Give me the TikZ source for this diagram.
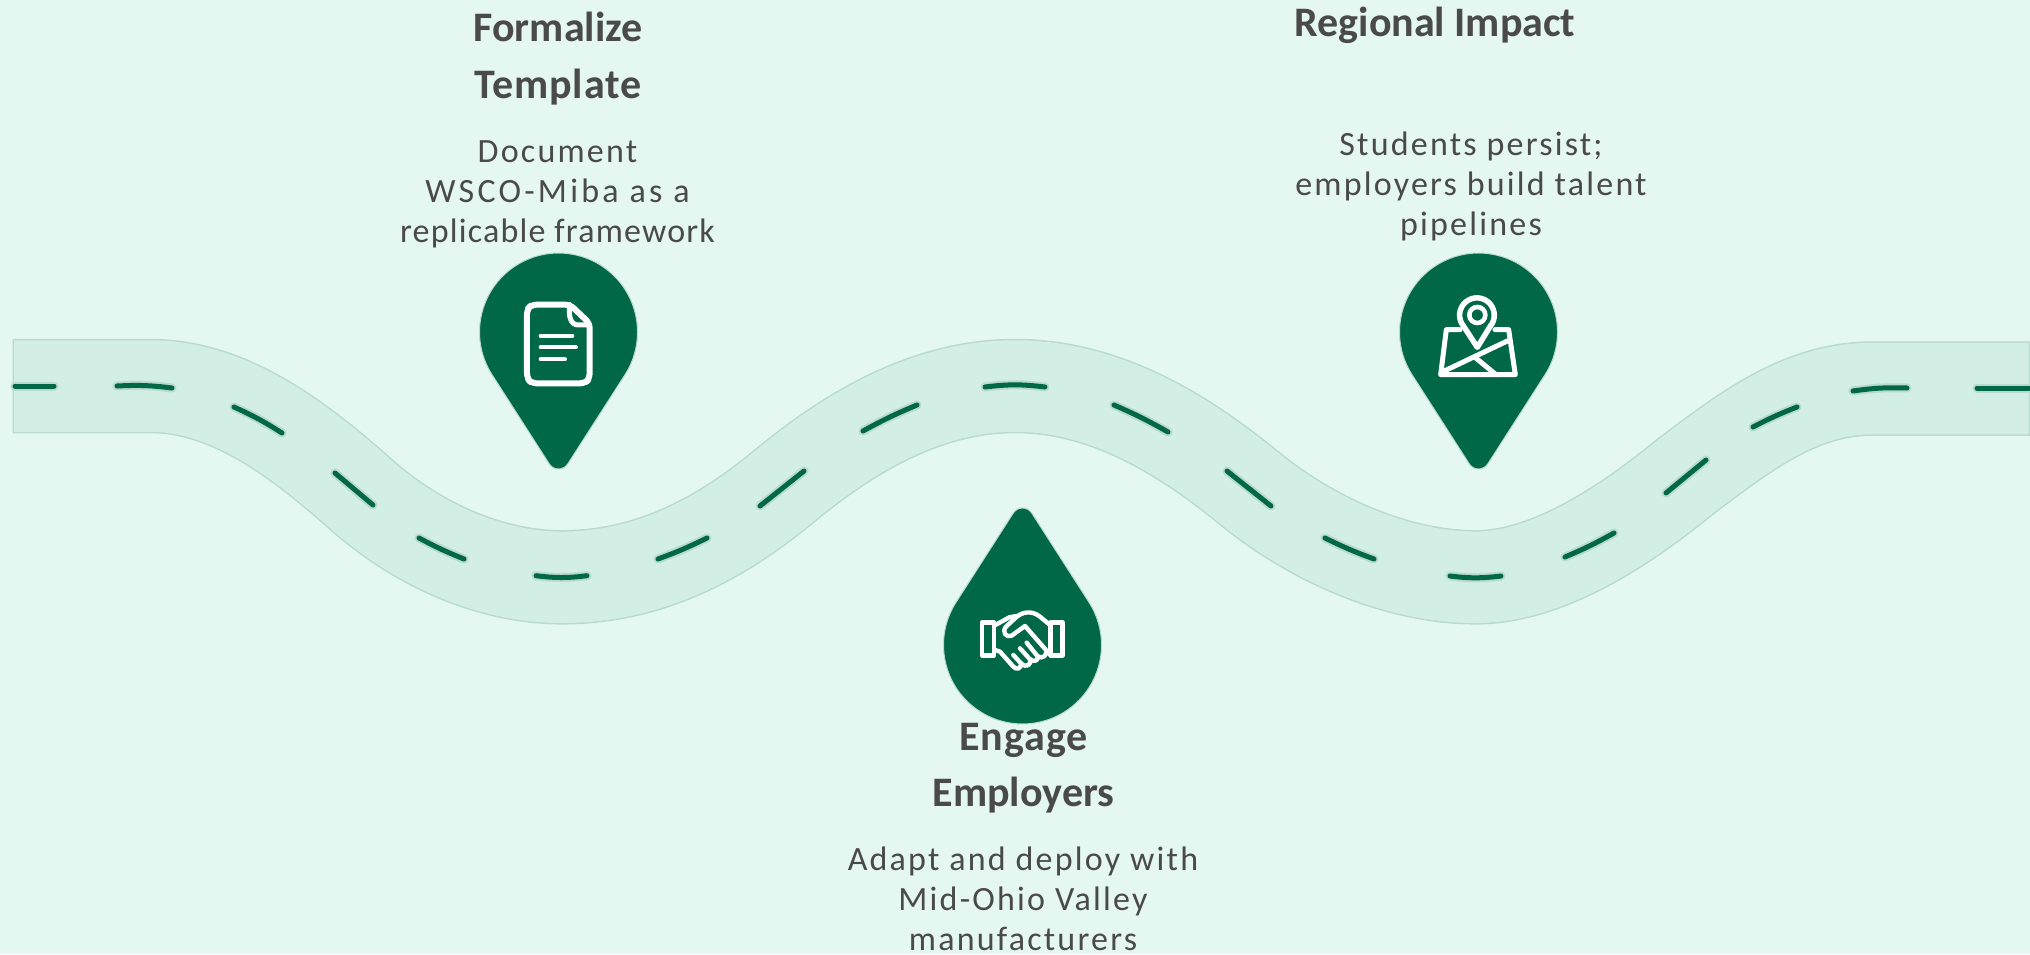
\documentclass[tikz,border=0pt]{standalone}
\usepackage{fontspec}
\setmainfont{Carlito}
\newfontfamily\bodyfont[LetterSpace=6.5]{Carlito}
\newfontfamily\bodytight[LetterSpace=3.5]{Carlito}
\newfontfamily\bodywide[LetterSpace=9.5]{Carlito}
\newfontfamily\headwide[LetterSpace=2.2]{Carlito}
\definecolor{bgc}{HTML}{E4F7F1}
\definecolor{roadc}{HTML}{D2EEE5}
\definecolor{edgec}{HTML}{B9DBCF}
\definecolor{greenc}{HTML}{006747}
\definecolor{textc}{HTML}{4A4A4A}
\tikzset{
  heading/.style={anchor=base,inner sep=0pt,align=center,text=textc,font=\fontsize{42}{56.5}\selectfont\bfseries},
  bodytext/.style={anchor=base,inner sep=0pt,align=center,text=textc,font=\fontsize{34}{40}\selectfont\bodyfont},
  dashglow/.style={draw=edgec,line width=9pt,line cap=round},
  dashcore/.style={draw=greenc,line width=5pt,line cap=round},
  pinbody/.style={fill=greenc,draw=edgec,line width=1pt},
  icon/.style={draw=white,line width=4.4pt,line join=round,line cap=round,fill=none},
  iconthin/.style={draw=white,line width=4pt,line join=round,line cap=round,fill=none}
}
\def\roadcurve{(150,386) .. controls (230,386) and (300,440) .. (365,498)
  .. controls (420,545) and (490,577) .. (561.5,577.3)
  .. controls (640,577.3) and (710,547) .. (782,488)
  .. controls (840,440) and (920,386) .. (1015,386)
  .. controls (1110,386) and (1190,440) .. (1249,488)
  .. controls (1310,538) and (1395,577.3) .. (1476,577.3)
  .. controls (1550,577.3) and (1630,522) .. (1686,476)
  .. controls (1745,432) and (1800,388.5) .. (1873,388.5)}
\newcommand{\pinshape}[3]{% x, y, direction
  \begin{scope}[shift={(#1,#2)},yscale=#3]
    \path[pinbody] (-66.6,42.5) arc[start angle=147.5,end angle=392.5,radius=79]
      -- (9.3,131.9) arc[start angle=32.5,end angle=147.5,radius=11] -- cycle;
  \end{scope}}
\begin{document}
\begin{tikzpicture}[x=1pt,y=-1pt]
\useasboundingbox (0,0) rectangle (2030,954);
\fill[bgc] (0,0) rectangle (2030,954);
% road
\draw[edgec,line width=94.5pt] (12.5,386) -- \roadcurve -- (2030,388.5);
\draw[roadc,line width=91.5pt] (14,386) -- \roadcurve -- (2028.5,388.5);
% lane dashes
\foreach \xa/\ya/\xb/\yb/\bnd in {
  15/386/54/386/0, 117/386/172/388/5, 234/407/282/433/4, 335/473/373/505/0,
  419/538/464/559/-3, 536/575.7/587/575.7/-7, 658/559/707/538/-3, 760/506/804/471/0,
  863/431/917/405/3, 985/387/1045/387/7, 1114/405/1168/432/3, 1227/471/1271/506/0,
  1325/538/1374/559/-3, 1450/576/1501/576/-7, 1565/557/1614/533/-3, 1666/493/1706/460/0,
  1753/427/1797/407/3, 1853/391/1907/388/5, 1977/388/2029/388/0}{
  \draw[dashglow] (\xa,\ya) to[bend left=\bnd] (\xb,\yb);
}
\foreach \xa/\ya/\xb/\yb/\bnd in {
  15/386/54/386/0, 117/386/172/388/5, 234/407/282/433/4, 335/473/373/505/0,
  419/538/464/559/-3, 536/575.7/587/575.7/-7, 658/559/707/538/-3, 760/506/804/471/0,
  863/431/917/405/3, 985/387/1045/387/7, 1114/405/1168/432/3, 1227/471/1271/506/0,
  1325/538/1374/559/-3, 1450/576/1501/576/-7, 1565/557/1614/533/-3, 1666/493/1706/460/0,
  1753/427/1797/407/3, 1853/391/1907/388/5, 1977/388/2029/388/0}{
  \draw[dashcore] (\xa,\ya) to[bend left=\bnd] (\xb,\yb);
}
% pins
\pinshape{558.5}{332}{1}
\pinshape{1478.5}{332}{1}
\pinshape{1022.5}{645}{-1}
% document icon (zoom coordinates)
\begin{scope}[shift={(440,230)},x=0.3333pt,y=-0.3333pt]
  \draw[icon,line width=6pt,rounded corners=5pt] (390,224) -- (275,224) -- (261,238) -- (261,445) -- (275,460) -- (435,460) -- (449,445) -- (449,280) -- cycle;
  \draw[icon,line width=5pt] (390,224) .. controls (385,250) and (388,285) .. (415,285) -- (449,284);
  \draw[iconthin] (302,317) -- (397,317);
  \draw[iconthin] (302,352) -- (408,352);
  \draw[iconthin] (302,388) -- (375,388);
\end{scope}
% map icon
\begin{scope}[shift={(1370,240)},x=0.3333pt,y=-0.3333pt]
  \draw[icon,line width=5.5pt] (281,259) arc[start angle=140,end angle=400,radius=52] -- (322,322) -- cycle;
  \draw[icon,line width=4.6pt] (322,225) circle[radius=24];
  \draw[icon,line width=5pt] (270,269) -- (229,269) -- (212,404) -- (436,404) -- (416,269) -- (375,269);
  \draw[icon,line width=5pt] (225,392) -- (412,303);
  \draw[icon,line width=5pt] (315,352) -- (378,404);
\end{scope}
% handshake icon
\begin{scope}[shift={(920,500)},x=0.3333pt,y=-0.3333pt]
  \draw[icon] (186,367) rectangle (222,466);
  \draw[icon] (392,367) rectangle (428,466);
  % right hand and thumb
  \draw[icon] (390,375) -- (360,350) .. controls (335,330) and (305,335) .. (285,355)
    -- (258,380) .. controls (245,395) and (258,415) .. (275,407) -- (315,378) -- (378,450)
    .. controls (385,465) and (365,480) .. (352,468);
  % left hand
  \draw[icon] (226,375) -- (268,352) -- (290,348);
  \draw[icon] (226,450) -- (240,455) -- (280,500) .. controls (290,512) and (305,505) .. (303,490) -- (280,465);
  \draw[icon] (303,490) .. controls (318,505) and (335,495) .. (330,478) -- (300,445);
  \draw[icon] (330,478) .. controls (345,490) and (358,478) .. (352,468) -- (320,428);
\end{scope}
% texts
\node[heading] (h1) at (558,98) {Formalize\\{\headwide\bfseries Template}};
\node[bodytext] (b1) at (557.5,242) {Document\\{\bodywide WSCO-Miba as a}\\{\bodytight replicable framework}};
\node[heading] (h2) at (1435,36.7) {Regional Impact};
\node[bodytext] (b2) at (1471,235) {Students persist;\\employers build talent\\pipelines};
\node[heading] (h3) at (1023.5,806.7) {{\headwide\bfseries Engage}\\Employers};
\node[bodytext] (b3) at (1023,950) {Adapt and deploy with\\Mid-Ohio Valley\\manufacturers};
\end{tikzpicture}
\end{document}
